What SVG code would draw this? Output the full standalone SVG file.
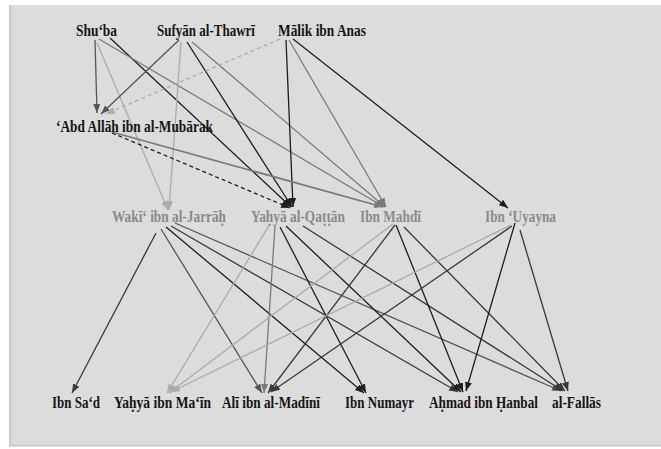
<svg xmlns="http://www.w3.org/2000/svg" width="661" height="449" viewBox="0 0 661 449">
<style>
.t{font-family:"Liberation Serif","Times New Roman",serif;font-weight:bold;font-size:17px}
.b{fill:#151515}
.gm{fill:#8a8a8a}
line{stroke-width:1.3;fill:none}
.k{stroke:#1e1e1e;marker-end:url(#ak)}
.d{stroke:#3a3a3a;marker-end:url(#ad)}
.g{stroke:#555;marker-end:url(#ag)}
.m{stroke:#7a7a7a;marker-end:url(#am)}
.l{stroke:#ababab;marker-end:url(#al)}
.ds{stroke-dasharray:4 3}
</style>
<defs>
<marker id="ak" markerUnits="userSpaceOnUse" markerWidth="10" markerHeight="8" refX="9" refY="3.5" orient="auto"><path d="M0,0 L9,3.5 L0,7 z" fill="#1e1e1e"/></marker>
<marker id="ad" markerUnits="userSpaceOnUse" markerWidth="10" markerHeight="8" refX="9" refY="3.5" orient="auto"><path d="M0,0 L9,3.5 L0,7 z" fill="#3a3a3a"/></marker>
<marker id="ag" markerUnits="userSpaceOnUse" markerWidth="10" markerHeight="8" refX="9" refY="3.5" orient="auto"><path d="M0,0 L9,3.5 L0,7 z" fill="#555"/></marker>
<marker id="am" markerUnits="userSpaceOnUse" markerWidth="10" markerHeight="8" refX="9" refY="3.5" orient="auto"><path d="M0,0 L9,3.5 L0,7 z" fill="#7a7a7a"/></marker>
<marker id="al" markerUnits="userSpaceOnUse" markerWidth="10" markerHeight="8" refX="9" refY="3.5" orient="auto"><path d="M0,0 L9,3.5 L0,7 z" fill="#ababab"/></marker>
</defs>
<rect x="0" y="0" width="661" height="449" fill="#ffffff"/>
<rect x="9" y="5" width="652" height="441" fill="#dcdcdc"/>
<rect x="9" y="5" width="2.5" height="441" fill="#cbcbcb"/>
<rect x="9" y="445" width="652" height="1.5" fill="#c4c4c4"/>
<g id="connectors">
<line class="g" x1="95" y1="40" x2="97" y2="113"/>
<line class="l" x1="97" y1="43" x2="168" y2="210"/>
<line class="k" x1="110" y1="38" x2="291" y2="207"/>
<line class="m" x1="99" y1="39" x2="384" y2="207"/>
<line class="g" x1="179" y1="40" x2="101" y2="114"/>
<line class="l" x1="181" y1="42" x2="169" y2="210"/>
<line class="k" x1="187" y1="42" x2="292" y2="207"/>
<line class="m" x1="192" y1="42" x2="385" y2="207"/>
<line class="l ds" x1="280" y1="39" x2="106" y2="114"/>
<line class="k" x1="286" y1="40" x2="293" y2="207"/>
<line class="m" x1="289" y1="40" x2="386" y2="207"/>
<line class="k" x1="293" y1="39" x2="508" y2="208"/>
<line class="k ds" x1="112" y1="133" x2="290" y2="208"/>
<line class="m" style="stroke-width:1.8" x1="112" y1="132" x2="383" y2="207"/>
<line class="d" x1="156" y1="233" x2="72" y2="393"/>
<line class="g" x1="161" y1="229" x2="262" y2="393"/>
<line class="k" x1="166" y1="227" x2="364" y2="393"/>
<line class="d" x1="171" y1="226" x2="458" y2="392"/>
<line class="g" x1="175" y1="223" x2="561" y2="391"/>
<line class="l" x1="270" y1="224" x2="167" y2="393"/>
<line class="m" x1="275" y1="226" x2="264" y2="393"/>
<line class="k" x1="280" y1="227" x2="366" y2="393"/>
<line class="k" x1="286" y1="226" x2="461" y2="392"/>
<line class="d" x1="303" y1="226" x2="563" y2="391"/>
<line class="l" x1="393" y1="224" x2="169" y2="393"/>
<line class="d" x1="395" y1="225" x2="268" y2="393"/>
<line class="k" x1="396" y1="225" x2="463" y2="392"/>
<line class="d" x1="404" y1="227" x2="565" y2="391"/>
<line class="l" x1="511" y1="225" x2="171" y2="392"/>
<line class="d" x1="512" y1="226" x2="271" y2="392"/>
<line class="k" x1="515" y1="223" x2="466" y2="391"/>
<line class="d" x1="520" y1="230" x2="568" y2="391"/>
</g>
<g id="shuba"><text class="t b" transform="translate(76,36) scale(0.78,1)" textLength="52.6" lengthAdjust="spacingAndGlyphs">Shu‘ba</text></g>
<g id="sufyan"><text class="t b" transform="translate(157,36) scale(0.78,1)" textLength="125.6" lengthAdjust="spacingAndGlyphs">Sufyān al-Thawrī</text></g>
<g id="malik"><text class="t b" transform="translate(278,36) scale(0.78,1)" textLength="112.8" lengthAdjust="spacingAndGlyphs">Mālik ibn Anas</text></g>
<g id="abdallah"><text class="t b" transform="translate(56,132) scale(0.78,1)" textLength="201.3" lengthAdjust="spacingAndGlyphs">‘Abd Allāh ibn al-Mubārak</text></g>
<g id="waki"><text class="t gm" transform="translate(112,222) scale(0.78,1)" textLength="146.2" lengthAdjust="spacingAndGlyphs">Wakī‘ ibn al-Jarrāḥ</text></g>
<g id="qattan"><text class="t gm" transform="translate(251,222) scale(0.78,1)" textLength="120.5" lengthAdjust="spacingAndGlyphs">Yaḥyā al-Qaṭṭān</text></g>
<g id="mahdi"><text class="t gm" transform="translate(360,222) scale(0.78,1)" textLength="78.2" lengthAdjust="spacingAndGlyphs">Ibn Mahdī</text></g>
<g id="uyayna"><text class="t gm" transform="translate(485,222) scale(0.78,1)" textLength="91" lengthAdjust="spacingAndGlyphs">Ibn ‘Uyayna</text></g>
<g id="ibnsad"><text class="t b" transform="translate(52,408) scale(0.78,1)" textLength="61.5" lengthAdjust="spacingAndGlyphs">Ibn Sa‘d</text></g>
<g id="ibnmain"><text class="t b" transform="translate(114,408) scale(0.78,1)" textLength="124.4" lengthAdjust="spacingAndGlyphs">Yaḥyā ibn Ma‘īn</text></g>
<g id="madini"><text class="t b" transform="translate(222,408) scale(0.78,1)" textLength="125.6" lengthAdjust="spacingAndGlyphs">Alī ibn al-Madīnī</text></g>
<g id="numayr"><text class="t b" transform="translate(345,408) scale(0.78,1)" textLength="88.5" lengthAdjust="spacingAndGlyphs">Ibn Numayr</text></g>
<g id="hanbal"><text class="t b" transform="translate(429,408) scale(0.78,1)" textLength="139.7" lengthAdjust="spacingAndGlyphs">Aḥmad ibn Ḥanbal</text></g>
<g id="fallas"><text class="t b" transform="translate(552,408) scale(0.78,1)" textLength="62.8" lengthAdjust="spacingAndGlyphs">al-Fallās</text></g>
</svg>
